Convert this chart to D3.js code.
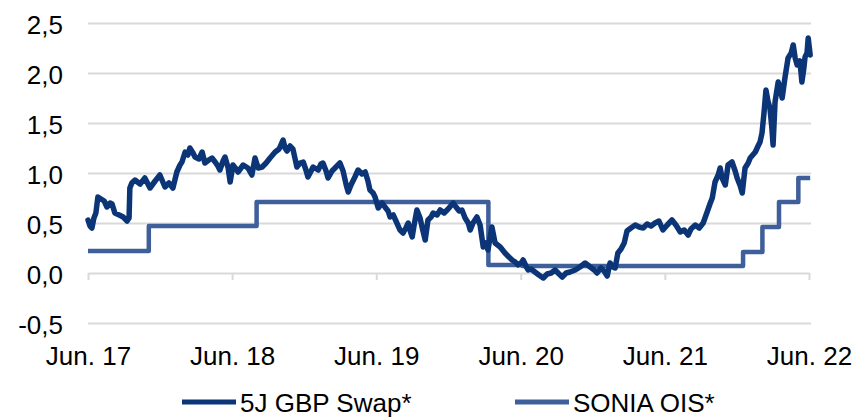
<!DOCTYPE html>
<html>
<head>
<meta charset="utf-8">
<script src="https://cdn.jsdelivr.net/npm/d3@7"></script>
<style>
  body { margin: 0; background: #fff; }
  text { font-family: "Liberation Sans", Arial, sans-serif; fill: #000; }
</style>
</head>
<body>
<svg id="chart" width="858" height="418"></svg>
<script>
// 5J GBP Swap
var swapData = [
  ["2017-06-01",0.53],["2017-06-06",0.47],["2017-06-11",0.45],["2017-06-16",0.55],["2017-06-21",0.60],
  ["2017-06-26",0.76],["2017-07-04",0.74],["2017-07-12",0.72],["2017-07-19",0.66],["2017-07-27",0.70],
  ["2017-08-01",0.69],["2017-08-08",0.60],["2017-08-19",0.58],["2017-08-29",0.56],["2017-09-08",0.52],
  ["2017-09-13",0.55],["2017-09-15",0.85],["2017-09-20",0.90],["2017-09-28",0.93],["2017-10-11",0.89],
  ["2017-10-23",0.95],["2017-11-05",0.85],["2017-11-18",0.92],["2017-11-30",0.98],["2017-12-13",0.86],
  ["2017-12-23",0.90],["2018-01-02",0.85],["2018-01-12",1.01],["2018-01-20",1.08],["2018-01-25",1.11],
  ["2018-02-02",1.21],["2018-02-09",1.18],["2018-02-14",1.25],["2018-02-22",1.20],["2018-02-27",1.16],
  ["2018-03-09",1.14],["2018-03-17",1.21],["2018-03-24",1.10],["2018-04-03",1.13],["2018-04-11",1.15],
  ["2018-04-19",1.11],["2018-04-26",1.07],["2018-05-01",1.03],["2018-05-09",1.12],["2018-05-14",1.16],
  ["2018-05-22",1.05],["2018-05-27",0.91],["2018-06-03",1.08],["2018-06-11",1.04],["2018-06-16",1.01],
  ["2018-06-29",1.08],["2018-07-11",1.05],["2018-07-21",0.98],["2018-07-29",1.15],["2018-08-06",1.05],
  ["2018-08-16",1.06],["2018-08-26",1.10],["2018-09-05",1.15],["2018-09-18",1.21],["2018-09-28",1.24],
  ["2018-10-08",1.33],["2018-10-13",1.25],["2018-10-18",1.22],["2018-10-26",1.27],["2018-11-02",1.24],
  ["2018-11-07",1.15],["2018-11-12",1.06],["2018-11-20",1.10],["2018-11-28",1.11],["2018-12-05",1.03],
  ["2018-12-10",0.96],["2018-12-18",1.02],["2018-12-23",1.06],["2019-01-05",1.03],["2019-01-12",1.09],
  ["2019-01-17",1.10],["2019-01-25",1.02],["2019-01-30",0.95],["2019-02-09",1.02],["2019-02-19",1.06],
  ["2019-03-01",1.10],["2019-03-09",1.02],["2019-03-17",0.88],["2019-03-22",0.81],["2019-03-29",0.88],
  ["2019-04-08",0.96],["2019-04-16",1.03],["2019-04-26",0.99],["2019-05-04",1.01],["2019-05-11",0.92],
  ["2019-05-16",0.83],["2019-05-24",0.80],["2019-05-29",0.76],["2019-06-06",0.65],["2019-06-16",0.70],
  ["2019-06-23",0.66],["2019-07-01",0.62],["2019-07-06",0.56],["2019-07-14",0.58],["2019-07-21",0.52],
  ["2019-07-31",0.43],["2019-08-08",0.40],["2019-08-15",0.45],["2019-08-21",0.50],["2019-08-26",0.42],
  ["2019-08-31",0.36],["2019-09-05",0.48],["2019-09-12",0.63],["2019-09-20",0.55],["2019-09-25",0.46],
  ["2019-10-03",0.33],["2019-10-10",0.53],["2019-10-18",0.56],["2019-10-23",0.60],["2019-11-02",0.58],
  ["2019-11-10",0.63],["2019-11-20",0.60],["2019-11-30",0.64],["2019-12-13",0.70],["2019-12-20",0.66],
  ["2019-12-28",0.62],["2020-01-04",0.63],["2020-01-12",0.55],["2020-01-20",0.50],["2020-01-25",0.43],
  ["2020-02-01",0.50],["2020-02-11",0.56],["2020-02-19",0.48],["2020-02-27",0.26],["2020-03-05",0.30],
  ["2020-03-10",0.23],["2020-03-15",0.35],["2020-03-20",0.46],["2020-03-28",0.30],["2020-04-10",0.26],
  ["2020-04-22",0.20],["2020-05-02",0.16],["2020-05-10",0.13],["2020-05-18",0.11],["2020-05-25",0.08],
  ["2020-06-02",0.10],["2020-06-07",0.13],["2020-06-14",0.07],["2020-06-20",0.03],["2020-06-27",0.04],
  ["2020-07-07",0.01],["2020-07-17",-0.02],["2020-07-28",-0.05],["2020-08-07",-0.01],["2020-08-17",0.00],
  ["2020-08-27",0.03],["2020-09-06",-0.01],["2020-09-14",-0.04],["2020-09-24",0.00],["2020-10-04",0.01],
  ["2020-10-17",0.03],["2020-10-29",0.06],["2020-11-11",0.10],["2020-11-24",0.06],["2020-12-04",0.03],
  ["2020-12-11",0.00],["2020-12-21",0.05],["2020-12-29",0.02],["2021-01-06",-0.03],["2021-01-13",0.10],
  ["2021-01-21",0.06],["2021-01-26",0.05],["2021-02-02",0.20],["2021-02-10",0.24],["2021-02-18",0.30],
  ["2021-02-25",0.42],["2021-03-07",0.45],["2021-03-18",0.48],["2021-03-28",0.46],["2021-04-07",0.45],
  ["2021-04-17",0.49],["2021-04-27",0.47],["2021-05-07",0.50],["2021-05-17",0.52],["2021-05-27",0.43],
  ["2021-06-07",0.48],["2021-06-19",0.53],["2021-06-29",0.48],["2021-07-10",0.41],["2021-07-20",0.43],
  ["2021-07-30",0.38],["2021-08-06",0.44],["2021-08-17",0.48],["2021-08-27",0.45],["2021-09-06",0.50],
  ["2021-09-16",0.61],["2021-09-24",0.70],["2021-09-29",0.75],["2021-10-06",0.91],["2021-10-14",0.98],
  ["2021-10-19",1.05],["2021-10-24",0.95],["2021-11-01",0.88],["2021-11-08",1.08],["2021-11-18",1.11],
  ["2021-11-26",1.02],["2021-12-01",0.95],["2021-12-09",0.87],["2021-12-14",0.80],["2021-12-21",1.05],
  ["2021-12-29",1.10],["2022-01-03",1.15],["2022-01-16",1.21],["2022-01-23",1.27],["2022-01-28",1.31],
  ["2022-02-02",1.40],["2022-02-07",1.60],["2022-02-12",1.83],["2022-02-17",1.72],["2022-02-22",1.65],
  ["2022-02-27",1.45],["2022-03-02",1.28],["2022-03-07",1.71],["2022-03-15",1.91],["2022-03-20",1.85],
  ["2022-03-25",1.75],["2022-04-01",1.95],["2022-04-09",2.15],["2022-04-17",2.20],["2022-04-22",2.28],
  ["2022-04-27",2.15],["2022-05-02",2.08],["2022-05-09",2.12],["2022-05-14",1.91],["2022-05-19",2.05],
  ["2022-05-22",2.16],["2022-05-27",2.20],["2022-05-30",2.35],["2022-06-04",2.18]
];

// SONIA OIS, step changes
var soniaData = [
  ["2017-06-01",0.22],["2017-11-02",0.47],["2018-08-02",0.71],["2020-03-11",0.08],
  ["2020-06-05",0.07],["2021-12-16",0.21],["2022-02-03",0.46],["2022-03-17",0.71],
  ["2022-05-05",0.95],["2022-06-04",0.95]
];

var yTicks = [-0.5, 0, 0.5, 1.0, 1.5, 2.0, 2.5];
var xTickDates = ["2017-06-01","2018-06-01","2019-06-01","2020-06-01","2021-06-01","2022-06-01"];
var xTickLabels = ["Jun. 17","Jun. 18","Jun. 19","Jun. 20","Jun. 21","Jun. 22"];
var seriesNames = ["5J GBP Swap*", "SONIA OIS*"];

var colours = ["#0b3577", "#3f5f9b"];

var svg = d3.select("#chart"),
    margin = {top: 23, right: 48, bottom: 95, left: 88},
    width = +svg.attr("width") - margin.left - margin.right,
    height = +svg.attr("height") - margin.top - margin.bottom;

var parse = d3.timeParse("%Y-%m-%d");
var de = d3.formatLocale({decimal: ",", thousands: ".", grouping: [3], currency: ["", " €"], minus: "-"});
var fmt = de.format(".1f");

var x = d3.scaleTime()
    .domain([parse(xTickDates[0]), parse(xTickDates[xTickDates.length - 1])])
    .range([0, width - 1]);
var y = d3.scaleLinear().domain([-0.5, 2.5]).range([height, 0]);

var g = svg.append("g")
    .attr("transform", "translate(" + margin.left + "," + margin.top + ")");

// y gridlines + labels
var yAxis = g.append("g")
    .attr("class", "axis axis--y")
    .call(d3.axisLeft(y).tickValues(yTicks).tickFormat(fmt).tickSize(-(width + 1)).tickPadding(25));
yAxis.select(".domain").remove();
yAxis.selectAll("line").attr("stroke", "#d9d9d9").attr("stroke-width", 2)
    .attr("display", function(d) { return d === 0 ? "none" : null; });
yAxis.selectAll("text").attr("font-size", 26).attr("dy", "0.42em");

// x axis on the zero line
var tickMap = {};
xTickDates.forEach(function(d, i) { tickMap[+parse(d)] = xTickLabels[i]; });
var xAxis = g.append("g")
    .attr("class", "axis axis--x")
    .attr("transform", "translate(0," + y(0) + ")")
    .call(d3.axisBottom(x)
        .tickValues(xTickDates.map(parse))
        .tickFormat(function(d) { return tickMap[+d]; })
        .tickSizeInner(7).tickSizeOuter(0).tickPadding(67));
xAxis.select(".domain").attr("stroke", "#d9d9d9").attr("stroke-width", 2);
xAxis.selectAll("line").attr("stroke", "#d9d9d9").attr("stroke-width", 2);
xAxis.selectAll("text").attr("font-size", 26);

var line = d3.line()
    .x(function(d) { return x(parse(d[0])); })
    .y(function(d) { return y(d[1]); });

g.append("path")
    .datum(soniaData)
    .attr("fill", "none")
    .attr("stroke", colours[1])
    .attr("stroke-width", 4.5)
    .attr("stroke-linejoin", "round")
    .attr("d", line.curve(d3.curveStepAfter));

g.append("path")
    .datum(swapData)
    .attr("fill", "none")
    .attr("stroke", colours[0])
    .attr("stroke-width", 5.5)
    .attr("stroke-linejoin", "round")
    .attr("stroke-linecap", "round")
    .attr("d", line.curve(d3.curveLinear));

// legend
var legend = svg.append("g")
    .selectAll("g")
    .data(seriesNames)
    .enter().append("g")
    .attr("transform", function(d, i) { return "translate(" + (182 + i * 333) + ",402)"; });

legend.append("line")
    .attr("x1", 0).attr("x2", 54)
    .attr("stroke", function(d, i) { return colours[i]; })
    .attr("stroke-width", 5);

legend.append("text")
    .attr("x", 58)
    .attr("y", 10)
    .attr("font-size", 26)
    .text(function(d) { return d; });
</script>
</body>
</html>
